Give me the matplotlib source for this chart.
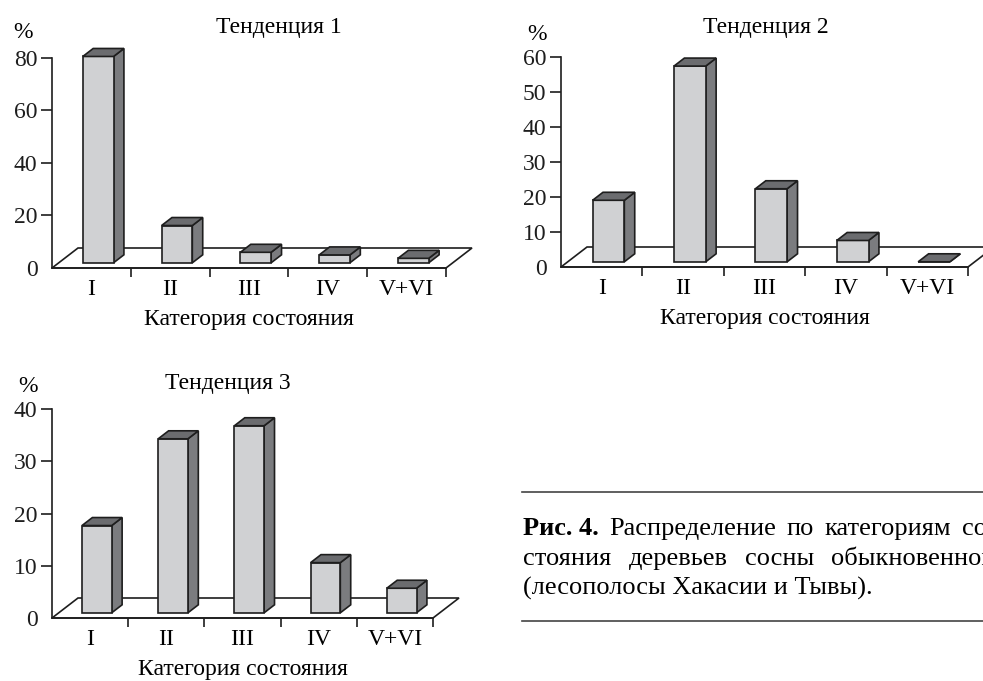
import numpy as np
import matplotlib
matplotlib.use("Agg")
import matplotlib.pyplot as plt
from matplotlib.patches import Polygon
from matplotlib.lines import Line2D

plt.rcParams["font.family"] = ["Liberation Serif", "DejaVu Serif"]

# ---------------- data ----------------
categories = ["I", "II", "III", "IV", "V+VI"]
trend1 = [78.6, 14.2, 4.0, 3.0, 1.7]
trend2 = [17.6, 56.0, 20.9, 6.1, 0.0]
trend3 = [16.7, 33.3, 35.8, 9.6, 4.7]
yticks1 = [0, 20, 40, 60, 80]
yticks2 = [0, 10, 20, 30, 40, 50, 60]
yticks3 = [0, 10, 20, 30, 40]
titles = ["Тенденция 1", "Тенденция 2", "Тенденция 3"]
xlabel = "Категория состояния"
ylabel = "%"
caption_line1 = ["Рис. 4.", "Распределение", "по", "категориям", "со-"]
caption_line2 = ["стояния", "деревьев", "сосны", "обыкновенной"]
caption_line3 = "(лесополосы Хакасии и Тывы)."

# ---------------- style ----------------
W, H = 983, 681
FS = 17
FRONT = "#d0d1d3"
SIDE = "#7b7c7f"
TOP = "#6b6c6f"
EDGE = "#1e1e1e"
LW = 1.2
FLOOR_DX, FLOOR_DY = 26.0, 20.0   # floor depth in pixels
F0, F1 = 0.26, 0.66               # bar depth range as fraction of floor depth
BW = 0.39                         # bar width in category units

fig = plt.figure(figsize=(W / 100, H / 100), dpi=100)


def panel(rect_px, values, yticks, title, title_px, pct_px):
    x0, x1, y0, ytop = rect_px
    ax = fig.add_axes([x0 / W, 1 - y0 / H, (x1 - x0) / W, (y0 - ytop) / H])
    n = len(values)
    ymax = yticks[-1]
    ax.set_xlim(0, n)
    ax.set_ylim(0, ymax)
    ax.patch.set_visible(False)
    for s in ["top", "right"]:
        ax.spines[s].set_visible(False)
    for s in ["left", "bottom"]:
        ax.spines[s].set_linewidth(LW)
        ax.spines[s].set_color(EDGE)
        ax.spines[s].set_zorder(2)
    ppx = (x1 - x0) / n
    ppy = (y0 - ytop) / ymax
    Dx, Dy = FLOOR_DX / ppx, FLOOR_DY / ppy
    floor = Polygon([(0, 0), (n, 0), (n + Dx, Dy), (Dx, Dy)], closed=True,
                    fc="white", ec=EDGE, lw=LW, clip_on=False, zorder=1)
    ax.add_patch(floor)
    ddx, ddy = (F1 - F0) * Dx, (F1 - F0) * Dy
    for i, v in enumerate(values):
        xa = i + 0.5 - BW / 2 + F0 * Dx
        xb = xa + BW
        yb = F0 * Dy
        yt = yb + v
        front = [(xa, yb), (xb, yb), (xb, yt), (xa, yt)]
        side = [(xb, yb), (xb + ddx, yb + ddy), (xb + ddx, yt + ddy), (xb, yt)]
        top = [(xa, yt), (xb, yt), (xb + ddx, yt + ddy), (xa + ddx, yt + ddy)]
        z = 3 + i * 0.01
        for pts, c in ((side, SIDE), (front, FRONT), (top, TOP)):
            ax.add_patch(Polygon(pts, closed=True, fc=c, ec=EDGE, lw=LW,
                                 joinstyle="miter", clip_on=False, zorder=z))
    # y axis
    ax.set_yticks(yticks)
    ax.set_yticklabels([str(t) for t in yticks], fontsize=FS)
    ax.tick_params(axis="y", direction="out", length=8, width=LW, pad=2.5, colors=EDGE)
    ax.yaxis.get_major_ticks()[0].tick1line.set_visible(False)
    # x axis
    ax.set_xticks(np.arange(1, n + 1))
    ax.set_xticklabels([])
    ax.tick_params(axis="x", which="major", direction="out", length=6.5, width=LW, colors=EDGE)
    ax.set_xticks(np.arange(n) + 0.5, minor=True)
    ax.set_xticklabels(categories, minor=True, fontsize=FS)
    ax.tick_params(axis="x", which="minor", length=0, pad=8.0)
    ax.annotate(xlabel, xy=(0.5, 0), xycoords="axes fraction", xytext=(0, -52),
                textcoords="offset pixels", ha="center", va="center", fontsize=FS)
    fig.text(title_px[0] / W, 1 - title_px[1] / H, title, ha="center", va="center", fontsize=FS)
    fig.text(pct_px[0] / W, 1 - pct_px[1] / H, ylabel, ha="center", va="center", fontsize=FS)
    return ax


panel((52, 446, 268, 58), trend1, yticks1, titles[0], (279, 27), (23, 32))
panel((561, 968, 267, 57.3), trend2, yticks2, titles[1], (766, 27), (537, 35))
panel((52, 433, 618, 409), trend3, yticks3, titles[2], (228, 383), (28, 386))

# ---------------- caption ----------------
fig.add_artist(Line2D([522 / W, 1.0], [1 - 492 / H, 1 - 492 / H], color="#444444", lw=1.2))
fig.add_artist(Line2D([522 / W, 1.0], [1 - 621 / H, 1 - 621 / H], color="#444444", lw=1.2))

renderer = fig.canvas.get_renderer()
CAP_LEFT, CAP_RIGHT = 522.7, 996.0
CFS = 19
line_y = [535, 565, 595]  # baselines in px


def place_justified(words, y, bold_first=False):
    texts = []
    for k, wd in enumerate(words):
        t = fig.text(0, 1 - y / H, wd, fontsize=CFS, ha="left", va="baseline",
                     fontweight="bold" if (bold_first and k == 0) else "normal")
        texts.append(t)
    widths = [t.get_window_extent(renderer).width for t in texts]
    gap = (CAP_RIGHT - CAP_LEFT - sum(widths)) / (len(words) - 1)
    x = CAP_LEFT
    for t, w in zip(texts, widths):
        t.set_x(x / W)
        x += w + gap


place_justified(caption_line1, line_y[0], bold_first=True)
place_justified(caption_line2, line_y[1])
fig.text(CAP_LEFT / W, 1 - line_y[2] / H, caption_line3, fontsize=CFS, ha="left", va="baseline")

fig.savefig("out.png", dpi=100)
